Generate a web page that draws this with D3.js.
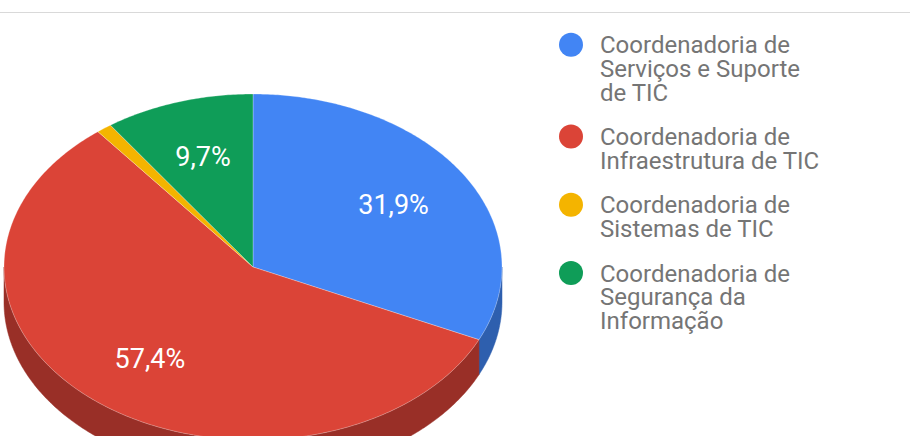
<!DOCTYPE html>
<html>
<head>
<meta charset="utf-8">
<script src="https://cdn.jsdelivr.net/npm/d3@7/dist/d3.min.js"></script>
<style>
  html, body { margin: 0; padding: 0; background: #fff; }
  svg { display: block; font-family: Roboto, "Noto Sans", sans-serif; }
</style>
</head>
<body>
<svg id="chart" width="910" height="436"></svg>
<script>
const categories = [
  "Coordenadoria de Serviços e Suporte de TIC",
  "Coordenadoria de Infraestrutura de TIC",
  "Coordenadoria de Sistemas de TIC",
  "Coordenadoria de Segurança da Informação"
];
const values = [31.9, 57.4, 1.0, 9.7];

const topColors = ["#4285f4", "#db4437", "#f4b400", "#0f9d58"];
const sideColors = ["#2e5fae", "#992f27", "#a67a00", "#0a6b3c"];

const W = 910, H = 436;
const cx = 253, cy = 267, rx = 249, ry = 173, depth = 35;

const svg = d3.select("#chart");

// top separator line
svg.append("line").attr("x1", 0).attr("x2", W).attr("y1", 12.5).attr("y2", 12.5)
  .attr("stroke", "#d9d9d9").attr("stroke-width", 1);

const pie = d3.pie().sort(null).value(d => d)(values);
const total = d3.sum(values);
const color = d3.scaleOrdinal().domain(d3.range(values.length)).range(topColors);
const sideColor = d3.scaleOrdinal().domain(d3.range(values.length)).range(sideColors);

const xs = a => cx + rx * Math.sin(a);
const ys = a => cy - ry * Math.cos(a);

function arcPoints(a0, a1, dy) {
  const n = Math.max(2, Math.ceil(Math.abs(a1 - a0) / 0.01));
  const pts = [];
  for (let i = 0; i <= n; i++) {
    const a = a0 + (a1 - a0) * i / n;
    pts.push([xs(a), ys(a) + dy]);
  }
  return pts;
}
const line = d3.line();

// side walls (front half only: angles between PI/2 and 3PI/2)
const g = svg.append("g");
pie.forEach((p, i) => {
  const a0 = Math.max(p.startAngle, Math.PI / 2);
  const a1 = Math.min(p.endAngle, 3 * Math.PI / 2);
  if (a1 <= a0) return;
  const pts = arcPoints(a0, a1, 0).concat(arcPoints(a1, a0, depth));
  g.append("path").attr("d", line(pts) + "Z")
    .attr("fill", sideColor(i)).attr("stroke", sideColor(i)).attr("stroke-width", 0.5);
});

// top faces
pie.forEach((p, i) => {
  const pts = [[cx, cy]].concat(arcPoints(p.startAngle, p.endAngle, 0));
  g.append("path").attr("d", line(pts) + "Z")
    .attr("fill", color(i)).attr("stroke", "#ffffff").attr("stroke-opacity", 0.35)
    .attr("stroke-width", 0.8).attr("stroke-linejoin", "round");
});

// labels
const locale = d3.formatLocale({decimal: ",", thousands: ".", grouping: [3], currency: ["R$", ""]});
const fmt = locale.format(".1%");
pie.forEach((p, i) => {
  const share = values[i] / total;
  if (share < 0.05) return;
  const m = (p.startAngle + p.endAngle) / 2;
  const k = 0.67;
  g.append("text")
    .attr("x", cx + k * rx * Math.sin(m))
    .attr("y", cy - k * ry * Math.cos(m))
    .attr("text-anchor", "middle")
    .attr("dy", "0.36em")
    .attr("fill", "#ffffff")
    .attr("font-size", 27)
    .text(fmt(share));
});

// legend
const legend = svg.append("g");
const legendX = 600, dotX = 571, maxW = 224, lineH = 23.6, gap = 21;
let y0 = 44.7;
categories.forEach((c, i) => {
  const t = legend.append("text").attr("font-size", 24).attr("fill", "#757575");
  // wrap words
  const words = c.split(" ");
  const lines = [];
  let cur = "";
  words.forEach(w => {
    const test = cur ? cur + " " + w : w;
    t.text(test);
    if (cur && t.node().getComputedTextLength() > maxW) {
      lines.push(cur);
      cur = w;
    } else {
      cur = test;
    }
  });
  lines.push(cur);
  t.text(null);
  lines.forEach((l, j) => {
    t.append("tspan").attr("x", legendX).attr("y", y0 + 8.6 + j * lineH).text(l);
  });
  legend.append("circle").attr("cx", dotX).attr("cy", y0).attr("r", 12).attr("fill", color(i));
  y0 += lines.length * lineH + gap;
});
</script>
</body>
</html>
